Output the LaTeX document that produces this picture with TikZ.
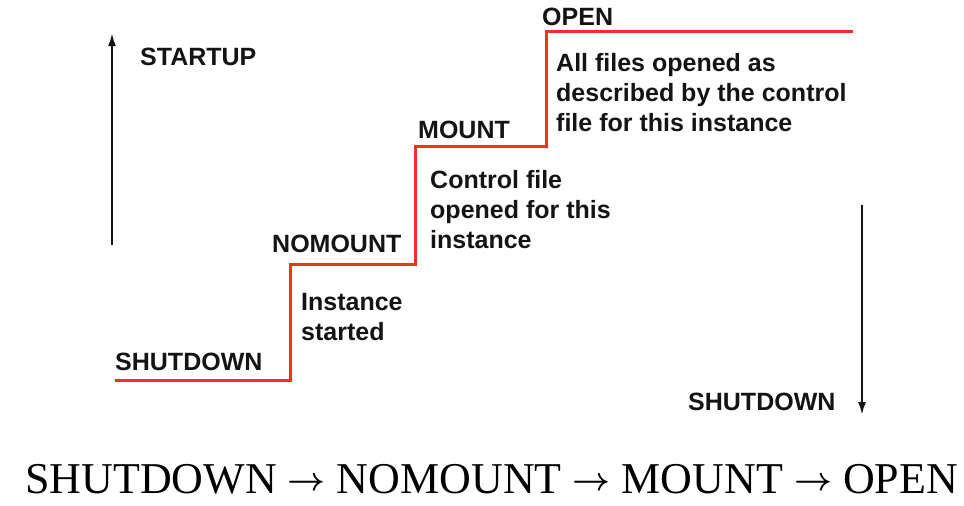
\RequirePackage{fix-cm}
\documentclass[tikz,border=0pt]{standalone}
\usepackage{fontspec}
\setmainfont{Liberation Serif}
\setsansfont{Liberation Sans}
\usetikzlibrary{arrows.meta}
\definecolor{stepred}{HTML}{F0321E}
\definecolor{ink}{HTML}{141414}
\newcommand{\fsLabel}{\fontsize{25}{30}\selectfont}
\newcommand{\fsBig}{\fontsize{44}{48}\selectfont}
\newcommand{\seqArrow}{\raisebox{3pt}{\fontsize{33}{33}\selectfont\boldmath$\rightarrow$}}

\begin{document}
\begin{tikzpicture}[x=1pt, y=-1pt,
  lbl/.style={font=\sffamily\bfseries\fsLabel, text=ink, anchor=base west, inner sep=0pt, align=left},
  stair/.style={stepred, line width=3pt},
  updown/.style={ink, line width=2.2pt, -{Latex[length=13pt,width=8pt]}}]
  \useasboundingbox (0,0) rectangle (964,506);
  % the staircase of states
  \coordinate (sLow) at (115,380);
  \coordinate (sNomount) at (290,264);
  \coordinate (sMount) at (415,146);
  \coordinate (sOpen) at (546,31);
  \coordinate (sEnd) at (853,31);
  \draw[stair] (sLow) -| (sNomount) -| (sMount) -| (sOpen) -- (sEnd);
  % startup / shutdown arrows
  \coordinate (upFrom) at (112,245);
  \coordinate (upTo) at (112,33);
  \draw[updown] (upFrom) -- (upTo);
  \coordinate (downFrom) at (862,205);
  \coordinate (downTo) at (862,415);
  \draw[updown] (downFrom) -- (downTo);
  % state labels (base = last line)
  \node[lbl] (startup) at (140,65) {STARTUP};
  \node[lbl] (shutLeft) at (115,370) {SHUTDOWN};
  \node[lbl] (nomount) at (272,252) {NOMOUNT};
  \node[lbl] (mount) at (418,138) {MOUNT};
  \node[lbl] (open) at (542,25) {OPEN};
  \node[lbl] (shutRight) at (688,410) {SHUTDOWN};
  % what each state does
  \node[lbl] (nomountNote) at (301,340) {Instance\\started};
  \node[lbl] (mountNote) at (430,248) {Control file\\opened for this\\instance};
  \node[lbl] (openNote) at (556,131) {All files opened as\\described by the control\\file for this instance};
  % sequence line
  \node[font=\fsBig, text=black, anchor=base west, inner sep=0pt] (sequence) at (25,493)
    {SHUTDOWN \seqArrow{} NOMOUNT \seqArrow{} MOUNT \seqArrow{} OPEN};
\end{tikzpicture}
\end{document}
